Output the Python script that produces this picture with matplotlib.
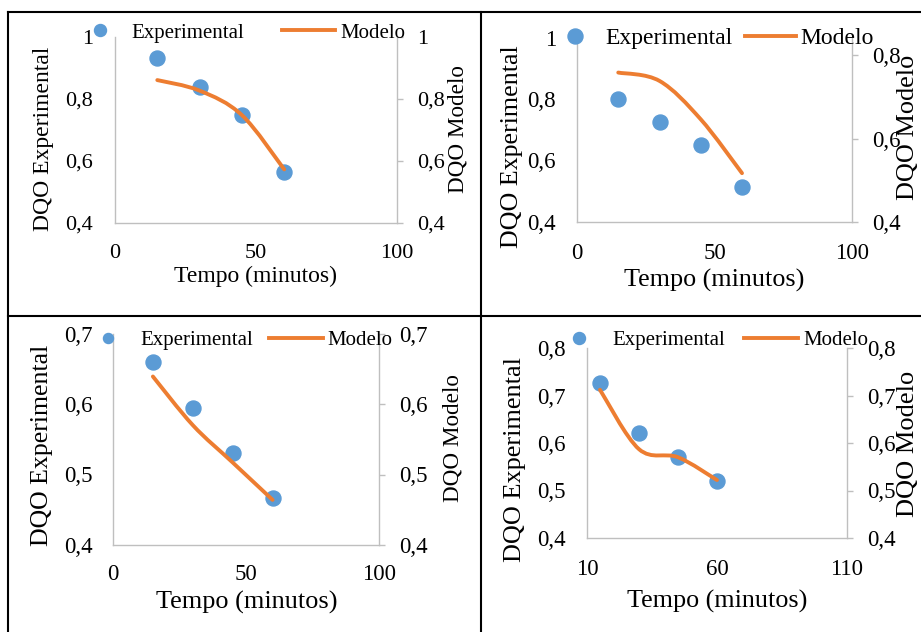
import numpy as np
import matplotlib
matplotlib.use("Agg")
import matplotlib.pyplot as plt
from matplotlib.path import Path
from matplotlib.patches import PathPatch
from matplotlib.lines import Line2D
from matplotlib.ticker import FuncFormatter

plt.rcParams['font.family'] = ['Liberation Serif', 'DejaVu Serif']

# Dados (DQO normalizada x tempo)
tempo = [15, 30, 45, 60]

exp_a = [0.933, 0.840, 0.748, 0.565]
mod_a = [0.861, 0.827, 0.748, 0.573]

exp_b = [0.800, 0.726, 0.650, 0.513]
mod_b = [0.758, 0.738, 0.646, 0.517]

exp_c = [0.660, 0.595, 0.531, 0.466]
mod_c = [0.639, 0.570, 0.517, 0.464]

exp_d = [0.726, 0.622, 0.570, 0.519]
mod_d = [0.712, 0.587, 0.570, 0.522]

xticks_abc = [0, 50, 100]
xticks_d = [10, 60, 110]
yticks_1 = [0.4, 0.6, 0.8, 1.0]
yticks_2 = [0.4, 0.6, 0.8]
yticks_3 = [0.4, 0.5, 0.6, 0.7]
yticks_4 = [0.4, 0.5, 0.6, 0.7, 0.8]

W, H = 921, 632
AZUL = '#5B9BD5'
LARANJA = '#ED7D31'
CINZA = '#BFBFBF'


def virgula(v, pos):
    return f'{v:g}'.replace('.', ',')


def curva_suave(x, y):
    """Curva suavizada tipo Excel (Bezier cubica, Catmull-Rom)"""
    p = np.column_stack([x, y]).astype(float)
    ext = np.vstack([p[0], p, p[-1]])
    verts = [p[0]]
    codes = [Path.MOVETO]
    for i in range(len(p) - 1):
        p0, p1, p2, p3 = ext[i], ext[i + 1], ext[i + 2], ext[i + 3]
        verts += [p1 + (p2 - p0) / 6, p2 - (p3 - p1) / 6, p2]
        codes += [Path.CURVE4] * 3
    return Path(verts, codes)


# caixa = (esquerda, topo, direita, base) em pixels
paineis = [
    dict(exp=exp_a, mod=mod_a, caixa=(115, 37, 397, 223), xlim=(0, 100), xt=xticks_abc,
         ylim=(0.4, 1.0), yt=yticks_1, ylim2=(0.4, 1.0), yt2=yticks_1,
         fs_tick=16, fs_x=17, fs_y=17, fs_y2=16.7, pad_y=15.8, pad_x=14.8,
         xlab=(255.5, 276), ylab=(44, 138.5), ylab2=(457.5, 129),
         leg=dict(x=73.5, y=33, fs=15, hl=2.54, htp=0.26, cs=1.78, ms=0.8)),
    dict(exp=exp_b, mod=mod_b, caixa=(577, 37.5, 852, 222), xlim=(0, 100), xt=xticks_abc,
         ylim=(0.4, 1.0), yt=yticks_1, ylim2=(0.4, 0.842), yt2=yticks_2,
         fs_tick=16.5, fs_x=18.8, fs_y=18.7, fs_y2=18.9, pad_y=15.1, pad_x=15,
         xlab=(714, 280), ylab=(511.7, 146.5), ylab2=(908, 127.5),
         leg=dict(x=549.5, y=38, fs=17, hl=2.16, htp=0.19, cs=0.55, ms=1.0)),
    dict(exp=exp_c, mod=mod_c, caixa=(113, 333.5, 379, 545), xlim=(0, 100), xt=xticks_abc,
         ylim=(0.4, 0.7), yt=yticks_3, ylim2=(0.4, 0.7), yt2=yticks_3,
         fs_tick=16.5, fs_x=18.9, fs_y=18.6, fs_y2=16.7, pad_y=14.4, pad_x=13.5,
         xlab=(246.7, 602.7), ylab=(41.7, 445), ylab2=(453, 438.5),
         leg=dict(x=81, y=340, fs=15, hl=2.59, htp=0.24, cs=0.77, ms=0.67)),
    dict(exp=exp_d, mod=mod_d, caixa=(587, 348, 847, 538), xlim=(10, 110), xt=xticks_d,
         ylim=(0.4, 0.8), yt=yticks_4, ylim2=(0.4, 0.8), yt2=yticks_4,
         fs_tick=16.5, fs_x=18.8, fs_y=18.9, fs_y2=19, pad_y=15.1, pad_x=15,
         xlab=(717.5, 601), ylab=(515, 460), ylab2=(908, 443.5),
         leg=dict(x=552, y=340, fs=15, hl=2.59, htp=0.29, cs=0.91, ms=0.8)),
]

fig = plt.figure(figsize=(W / 100, H / 100), dpi=100)

for p in paineis:
    x0, y0, x1, y1 = p['caixa']
    ax = fig.add_axes([x0 / W, 1 - y1 / H, (x1 - x0) / W, (y1 - y0) / H])
    ax2 = ax.twinx()

    pontos, = ax.plot(tempo, p['exp'], 'o', ms=10.8, color=AZUL, clip_on=False,
                      label='Experimental')
    ax2.add_patch(PathPatch(curva_suave(tempo, p['mod']), fill=False,
                            edgecolor=LARANJA, lw=2.8, capstyle='round'))

    ax.set_xlim(*p['xlim'])
    ax.set_xticks(p['xt'])
    ax.set_ylim(*p['ylim'])
    ax.set_yticks(p['yt'])
    ax2.set_ylim(*p['ylim2'])
    ax2.set_yticks(p['yt2'])
    for a in (ax, ax2):
        a.yaxis.set_major_formatter(FuncFormatter(virgula))
        a.set_facecolor('none')
        for s in a.spines.values():
            s.set_visible(False)
    ax.spines['left'].set_visible(True)
    ax.spines['bottom'].set_visible(True)
    ax2.spines['right'].set_visible(True)
    for s in (ax.spines['left'], ax.spines['bottom'], ax2.spines['right']):
        s.set_color(CINZA)
        s.set_linewidth(1.0)

    ax.tick_params(axis='y', length=0, pad=p['pad_y'], labelsize=p['fs_tick'])
    ax.tick_params(axis='x', length=0, pad=p['pad_x'], labelsize=p['fs_tick'])
    ax2.tick_params(axis='y', length=4.3, width=1.0, color=CINZA, direction='out',
                    pad=10, labelsize=p['fs_tick'])

    def frac(px, py):
        return (px - x0) / (x1 - x0), (y1 - py) / (y1 - y0)

    ax.set_xlabel('Tempo (minutos)', fontsize=p['fs_x'], va='center')
    ax.xaxis.set_label_coords(*frac(*p['xlab']))
    ax.set_ylabel('DQO Experimental', fontsize=p['fs_y'], va='center')
    ax.yaxis.set_label_coords(*frac(*p['ylab']))
    ax2.set_ylabel('DQO Modelo', fontsize=p['fs_y2'], va='center')
    ax2.yaxis.set_label_coords(*frac(*p['ylab2']))

    lg = p['leg']
    proxy = Line2D([], [], color=LARANJA, lw=2.8)
    ax2.legend([pontos, proxy], ['Experimental', 'Modelo'], ncol=2, frameon=False,
               loc='center left', bbox_to_anchor=(lg['x'] / W, 1 - lg['y'] / H),
               bbox_transform=fig.transFigure, borderpad=0, borderaxespad=0,
               fontsize=lg['fs'], handlelength=lg['hl'], handletextpad=lg['htp'],
               columnspacing=lg['cs'], markerscale=lg['ms'], numpoints=1)

# bordas da tabela
bordas = [((8, 921), (12, 12)), ((8, 8), (12, 632)),
          ((481, 481), (12, 632)), ((8, 921), (316, 316))]
for xs, ys in bordas:
    fig.add_artist(Line2D([x / W for x in xs], [1 - y / H for y in ys],
                          color='black', lw=1.5, transform=fig.transFigure))

fig.savefig('out.png', dpi=100)
